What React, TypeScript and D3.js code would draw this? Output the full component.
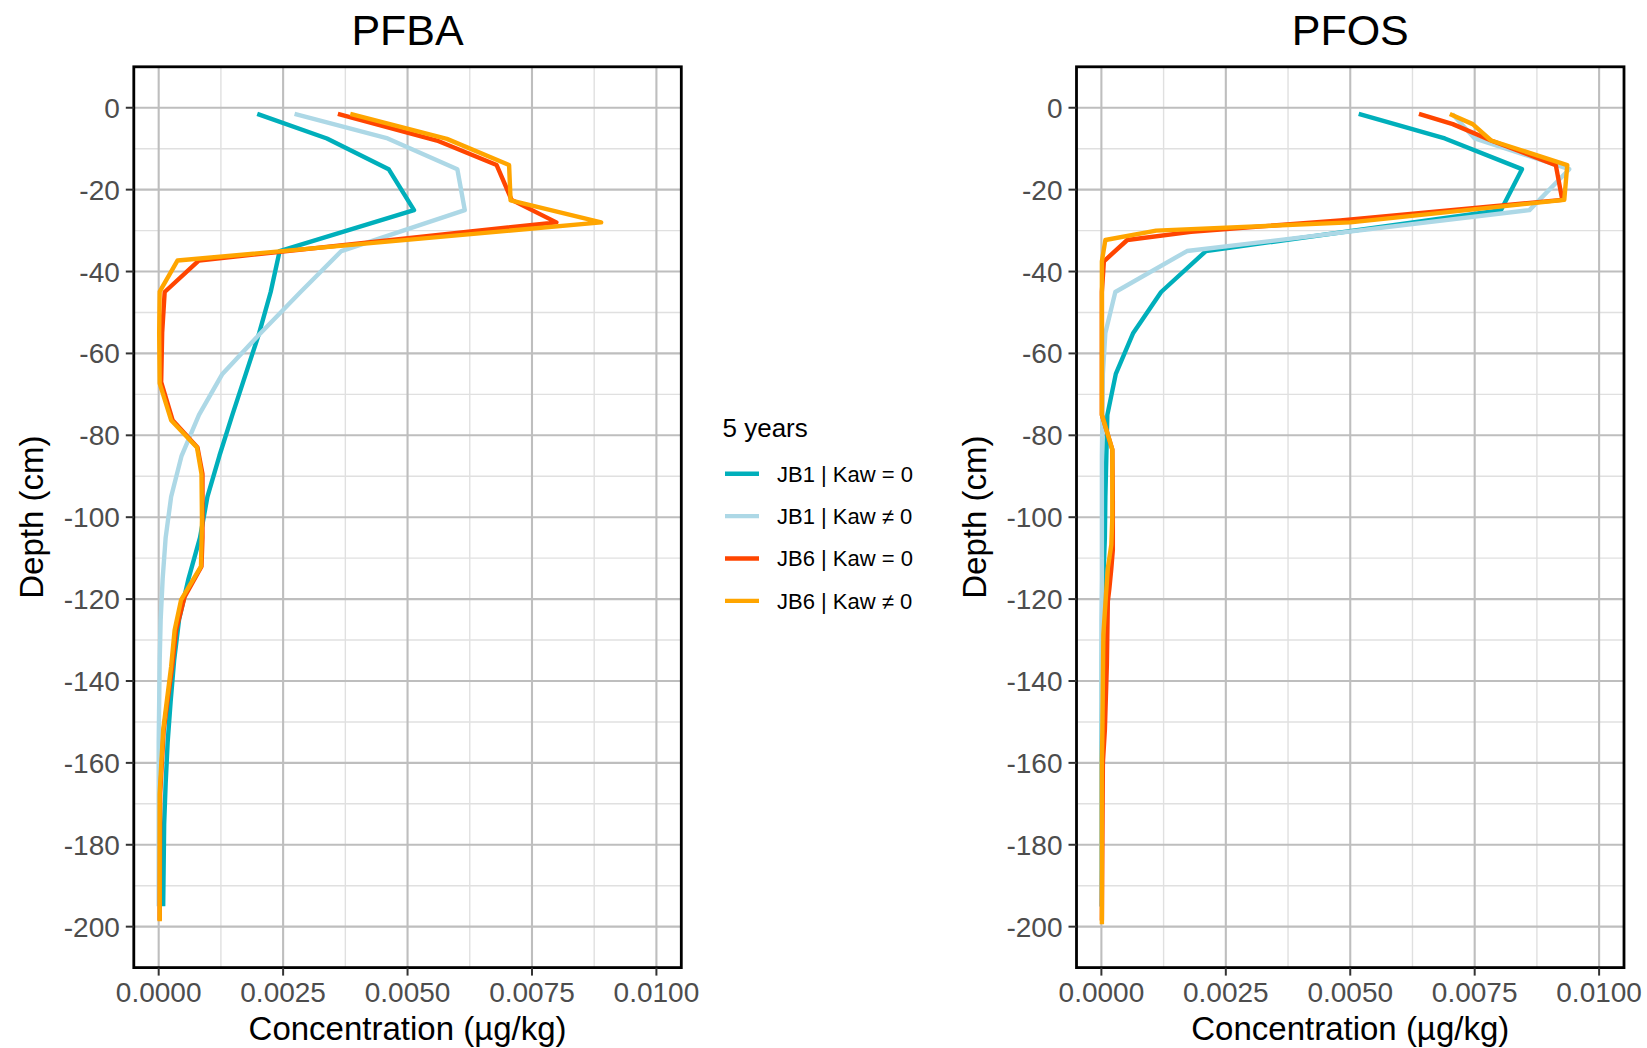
import React, { useEffect } from 'react';
import * as d3 from 'd3';

// ---------- data ----------
const panelTitles = ['PFBA', 'PFOS'];
const seriesNames = ['JB1 | Kaw = 0', 'JB1 | Kaw \u2260 0', 'JB6 | Kaw = 0', 'JB6 | Kaw \u2260 0'];
const seriesColors = ['#00AFBB', '#ADD8E6', '#FF4500', '#FFA500'];
const legendTitle = '5 years';
const xTickValues = [0, 0.0025, 0.005, 0.0075, 0.01];
const xTickLabels = ['0.0000', '0.0025', '0.0050', '0.0075', '0.0100'];
const xMinorValues = [0.00125, 0.00375, 0.00625, 0.00875];
const yTickValues = [0, -20, -40, -60, -80, -100, -120, -140, -160, -180, -200];
const yMinorValues = [-10, -30, -50, -70, -90, -110, -130, -150, -170, -190];

// [depth (cm), concentration (µg/kg)]
const pfbaJB1Kaw0: [number, number][] = [
  [-1.5, 0.00198], [-7.5, 0.00338], [-15, 0.00462], [-25, 0.00513], [-35, 0.00243],
  [-45, 0.00225], [-55, 0.00202], [-65, 0.00175], [-75, 0.00148], [-85, 0.00122],
  [-95, 0.00098], [-105, 0.00083], [-115, 0.0006], [-125, 0.00041], [-135, 0.00031],
  [-145, 0.00024], [-155, 0.00018], [-165, 0.00014], [-175, 0.00011], [-185, 0.0001], [-195, 0.00009],
];
const pfbaJB1KawN0: [number, number][] = [
  [-1.5, 0.00273], [-7.5, 0.0046], [-15, 0.006], [-25, 0.00615], [-35, 0.00367],
  [-45, 0.00285], [-55, 0.00205], [-65, 0.00128], [-75, 0.00081], [-85, 0.00046],
  [-95, 0.00025], [-105, 0.00014], [-115, 0.00008], [-125, 0.00004], [-135, 0.00002],
  [-145, 0.00001], [-155, 0.0], [-165, 0.0], [-175, 0.0], [-185, 0.0], [-195, 0.0],
];
const pfbaJB6Kaw0: [number, number][] = [
  [-1.5, 0.0036], [-8, 0.00559], [-14, 0.00679], [-22.5, 0.00709], [-28, 0.00799],
  [-37.3, 0.00081], [-45, 0.00012], [-55, 0.00007], [-67, 0.00005], [-76.3, 0.00028],
  [-83, 0.00078], [-89.4, 0.00088], [-105, 0.00088], [-112, 0.00086], [-119.5, 0.00052],
  [-127.6, 0.00035], [-136.5, 0.00027], [-152, 0.0001], [-167.5, 0.00003], [-198.5, 0.00002],
];
const pfbaJB6KawN0: [number, number][] = [
  [-1.5, 0.00385], [-7.6, 0.00579], [-14, 0.00704], [-22.6, 0.00707], [-28, 0.00889],
  [-37.3, 0.00038], [-44.9, 0.00002], [-55, 0.00001], [-67.3, 0.00002], [-76.3, 0.00025],
  [-83, 0.00077], [-89.4, 0.00086], [-100.7, 0.00087], [-112, 0.00085], [-120.2, 0.00045],
  [-127.6, 0.00032], [-136.5, 0.00025], [-152, 0.00009], [-167.5, 0.00002], [-198.7, 0.00002],
];

const pfosJB1Kaw0: [number, number][] = [
  [-1.5, 0.00517], [-7.5, 0.0069], [-15, 0.00845], [-25, 0.00803], [-35, 0.0021],
  [-45, 0.0012], [-55, 0.00064], [-65, 0.00029], [-75, 0.00012], [-85, 0.0001],
  [-95, 0.00008], [-105, 0.00007], [-115, 0.00004], [-125, 0.00002], [-135, 0.00001],
  [-145, 0.00001], [-155, 0.0], [-165, 0.0], [-175, 0.0], [-185, 0.0], [-195, 0.0],
];
const pfosJB1KawN0: [number, number][] = [
  [-1.5, 0.00705], [-7.5, 0.0075], [-15, 0.0094], [-25, 0.0086], [-35, 0.00172],
  [-45, 0.00028], [-55, 0.00008], [-65, 0.00003], [-75, 0.00002], [-85, 0.00001],
  [-95, 0.00001], [-105, 0.00001], [-115, 0.00001], [-125, 0.0], [-135, 0.0],
  [-145, 0.0], [-155, 0.0], [-165, 0.0], [-175, 0.0], [-185, 0.0], [-195, 0.0],
];
const pfosJB6Kaw0: [number, number][] = [
  [-1.5, 0.00638], [-4, 0.00706], [-8, 0.00783], [-14, 0.00913], [-22.5, 0.00926],
  [-27.5, 0.0048], [-30.3, 0.0018], [-32.3, 0.00052], [-37.5, 0.00005], [-45, 0.00001],
  [-75, 0.00001], [-83.5, 0.00022], [-96, 0.00023], [-108, 0.00023], [-112.5, 0.0002],
  [-117.5, 0.00016], [-120.5, 0.00013], [-136, 0.00011], [-152, 0.00007], [-160, 0.00003], [-198.5, 0.00001],
];
const pfosJB6KawN0: [number, number][] = [
  [-1.5, 0.007], [-4, 0.00746], [-8, 0.00783], [-14, 0.00936], [-22.5, 0.0093],
  [-28, 0.005], [-30, 0.0011], [-32.3, 0.00008], [-37.5, 0.00001], [-75, 0.00001],
  [-83.5, 0.00022], [-100, 0.00022], [-106.7, 0.0002], [-112.4, 0.00013], [-117.6, 0.0001],
  [-128.6, 0.00004], [-152, 0.00002], [-160, 0.00001], [-199.4, 0.00001],
];

const panelSeries = [
  [pfbaJB1Kaw0, pfbaJB1KawN0, pfbaJB6Kaw0, pfbaJB6KawN0],
  [pfosJB1Kaw0, pfosJB1KawN0, pfosJB6Kaw0, pfosJB6KawN0],
];

// ---------- layout ----------
const W = 1647;
const H = 1048;
const PANEL_LEFT = [133.8, 1076.5];
const PANEL_W = 547.5;
const TOP = 66.8;
const BOTTOM = 967.6;
const FONT = "'Liberation Sans', Arial, Helvetica, sans-serif";

function Panel({ idx }: { idx: number }) {
  const left = PANEL_LEFT[idx];
  const right = left + PANEL_W;
  const x = d3.scaleLinear().domain([-0.0005, 0.0105]).range([left, right]);
  const y = d3.scaleLinear().domain([10, -210]).range([TOP, BOTTOM]);
  const line = d3
    .line<[number, number]>()
    .x((d) => x(d[1]))
    .y((d) => y(d[0]));
  const cx = (left + right) / 2;
  return (
    <g>
      <rect x={left} y={TOP} width={PANEL_W} height={BOTTOM - TOP} fill="#fff" />
      {xMinorValues.map((v) => (
        <line key={'xm' + v} x1={x(v)} x2={x(v)} y1={TOP} y2={BOTTOM} stroke="#E0E0E0" strokeWidth={1.4} />
      ))}
      {yMinorValues.map((v) => (
        <line key={'ym' + v} x1={left} x2={right} y1={y(v)} y2={y(v)} stroke="#E0E0E0" strokeWidth={1.4} />
      ))}
      {xTickValues.map((v) => (
        <line key={'xM' + v} x1={x(v)} x2={x(v)} y1={TOP} y2={BOTTOM} stroke="#BEBEBE" strokeWidth={2.1} />
      ))}
      {yTickValues.map((v) => (
        <line key={'yM' + v} x1={left} x2={right} y1={y(v)} y2={y(v)} stroke="#BEBEBE" strokeWidth={2.1} />
      ))}
      {panelSeries[idx].map((s, i) => (
        <path
          key={'s' + i}
          d={line(s) || ''}
          fill="none"
          stroke={seriesColors[i]}
          strokeWidth={4.4}
          strokeLinejoin="round"
          strokeLinecap="butt"
        />
      ))}
      <rect x={left} y={TOP} width={PANEL_W} height={BOTTOM - TOP} fill="none" stroke="#000" strokeWidth={2.8} />
      {xTickValues.map((v, i) => (
        <g key={'xt' + v}>
          <line x1={x(v)} x2={x(v)} y1={BOTTOM} y2={BOTTOM + 8} stroke="#333" strokeWidth={2} />
          <text x={x(v)} y={1001.5} textAnchor="middle" fontSize={28} fill="#4D4D4D" fontFamily={FONT}>
            {xTickLabels[i]}
          </text>
        </g>
      ))}
      {yTickValues.map((v) => (
        <g key={'yt' + v}>
          <line x1={left - 8} x2={left} y1={y(v)} y2={y(v)} stroke="#333" strokeWidth={2} />
          <text x={left - 14} y={y(v)} dy="0.36em" textAnchor="end" fontSize={28} fill="#4D4D4D" fontFamily={FONT}>
            {v}
          </text>
        </g>
      ))}
      <text x={cx} y={45} textAnchor="middle" fontSize={43} fill="#000" fontFamily={FONT}>
        {panelTitles[idx]}
      </text>
      <text x={cx} y={1040} textAnchor="middle" fontSize={33} fill="#000" fontFamily={FONT}>
        Concentration (µg/kg)
      </text>
      <text
        transform={`translate(${left - 102},${(TOP + BOTTOM) / 2}) rotate(-90)`}
        textAnchor="middle"
        dy="0.35em"
        fontSize={33}
        fill="#000"
        fontFamily={FONT}
      >
        Depth (cm)
      </text>
    </g>
  );
}

function Legend() {
  const keyYs = d3.range(seriesNames.length).map((i) => 473.7 + i * 42.4);
  return (
    <g>
      <text x={722.5} y={437} fontSize={26} fill="#000" fontFamily={FONT}>
        {legendTitle}
      </text>
      {seriesNames.map((name, i) => (
        <g key={name}>
          <line x1={725} x2={759} y1={keyYs[i]} y2={keyYs[i]} stroke={seriesColors[i]} strokeWidth={4.4} />
          <text x={777} y={keyYs[i]} dy="0.36em" fontSize={22} fill="#000" fontFamily={FONT}>
            {name}
          </text>
        </g>
      ))}
    </g>
  );
}

export default function App() {
  useEffect(() => {
    document.body.style.margin = '0';
  }, []);
  return (
    <svg width={W} height={H} viewBox={`0 0 ${W} ${H}`} style={{ display: 'block', background: '#fff' }}>
      <rect x={0} y={0} width={W} height={H} fill="#fff" />
      <Panel idx={0} />
      <Panel idx={1} />
      <Legend />
    </svg>
  );
}
